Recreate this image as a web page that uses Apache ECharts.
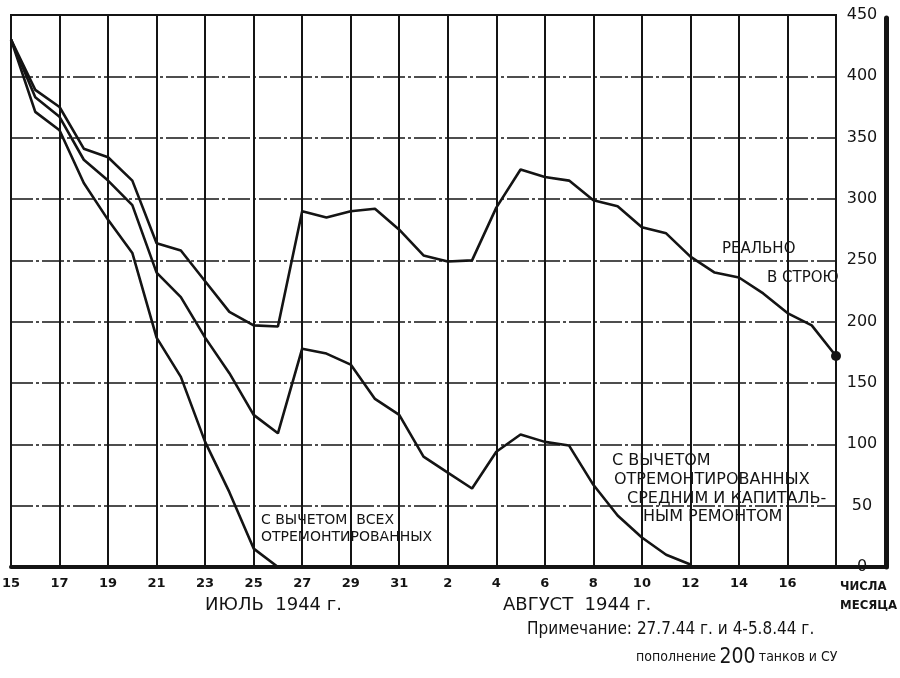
<!DOCTYPE html>
<html><head><meta charset="utf-8">
<script src="https://cdn.jsdelivr.net/npm/echarts/dist/echarts.min.js"></script>
<style>html,body{margin:0;padding:0;background:#fff}#c{width:900px;height:678px}</style>
</head><body><div id="c"></div>
<script>
// Days: 15 July 1944 .. 18 August 1944
const days = ['15','16','17','18','19','20','21','22','23','24','25','26','27','28','29','30','31',
              '1','2','3','4','5','6','7','8','9','10','11','12','13','14','15','16','17','18'];
const yTickLabels = ['0','50','100','150','200','250','300','350','400','450'];
// "реально в строю"
const inService = [430,389,375,341,334,315,264,258,233,208,197,196,290,285,290,292,275,
                   254,249,250,293,324,318,315,299,294,277,272,253,240,236,223,207,197,172];
// "с вычетом отремонтированных средним и капитальным ремонтом"
const minusMediumCapital = [430,383,367,332,315,295,240,220,187,158,124,109,178,174,165,137,124,
                   90,77,64,94,108,102,99,67,42,24,10,2,null,null,null,null,null,null];
// "с вычетом всех отремонтированных"
const minusAllRepaired = [430,371,356,313,283,256,187,155,102,61,15,0,null,null,null,null,null,
                   null,null,null,null,null,null,null,null,null,null,null,null,null,null,null,null,null,null];

const INK = '#141414';
const FONT = 'DejaVu Sans';
const chart = echarts.init(document.getElementById('c'));
const lineSeries = (data, extra) => Object.assign({
  type: 'line', data, xAxisIndex: 0, yAxisIndex: 0, symbol: 'none', connectNulls: false,
  lineStyle: { color: INK, width: 2.6 }, itemStyle: { color: INK }, silent: true, z: 5
}, extra || {});

chart.setOption({
  animation: false,
  backgroundColor: '#fff',
  textStyle: { fontFamily: FONT, color: INK },
  grid: [
    { left: 11, right: 64, top: 15, bottom: 111, show: true, borderColor: INK, borderWidth: 2,
      containLabel: false, outerBoundsMode: 'none' },
    { left: 836, right: 14, top: 18, bottom: 111, containLabel: false, outerBoundsMode: 'none' }
  ],
  xAxis: [
    {
      type: 'category', gridIndex: 0, data: days, boundaryGap: false,
      axisLine: { show: true, lineStyle: { color: INK, width: 4 } },
      axisTick: { show: false },
      axisLabel: {
        interval: 1, margin: 10, fontSize: 13, fontWeight: 'bold', color: INK, fontFamily: FONT,
        formatter: (v, i) => (i === days.length - 1 ? '' : v)
      },
      splitLine: { show: true, interval: 1, lineStyle: { color: INK, width: 2 } }
    },
    {
      type: 'value', gridIndex: 1, min: 0, max: 1,
      axisLine: { show: true, onZero: false, lineStyle: { color: INK, width: 4 } },
      axisTick: { show: false }, axisLabel: { show: false }, splitLine: { show: false }
    }
  ],
  yAxis: [
    {
      type: 'value', gridIndex: 0, position: 'right', min: 0, max: 450, interval: 50,
      axisLine: { show: true, onZero: false, lineStyle: { color: INK, width: 2 } },
      axisTick: { show: false },
      axisLabel: { align: 'center', margin: 26, fontSize: 16, color: INK, fontFamily: FONT,
        formatter: v => yTickLabels[Math.round(v / 50)] },
      splitLine: { show: true, lineStyle: { color: INK, width: 1.6, type: [22, 3, 3, 3] } }
    },
    {
      type: 'value', gridIndex: 1, position: 'right', min: 0, max: 1,
      axisLine: { show: true, onZero: false, lineStyle: { color: INK, width: 5 } },
      axisTick: { show: false }, axisLabel: { show: false }, splitLine: { show: false }
    }
  ],
  series: [
    lineSeries(inService, {
      name: 'реально в строю', symbol: 'circle', showSymbol: true,
      symbolSize: (v, p) => (p.dataIndex === inService.length - 1 ? 10 : 0)
    }),
    lineSeries(minusMediumCapital, { name: 'с вычетом отремонтированных средним и капитальным ремонтом' }),
    lineSeries(minusAllRepaired, { name: 'с вычетом всех отремонтированных' })
  ],
  graphic: [
    { type: 'text', left: 722, top: 242, z: 10, style: { text: 'РЕАЛЬНО', font: '15px "DejaVu Sans"', fill: INK } },
    { type: 'text', left: 767, top: 271, z: 10, style: { text: 'В СТРОЮ', font: '15px "DejaVu Sans"', fill: INK } },
    { type: 'text', left: 261, top: 513, z: 10, style: { text: 'С ВЫЧЕТОМ  ВСЕХ', font: '14px "DejaVu Sans"', fill: INK } },
    { type: 'text', left: 261, top: 530, z: 10, style: { text: 'ОТРЕМОНТИРОВАННЫХ', font: '14px "DejaVu Sans"', fill: INK } },
    { type: 'text', left: 612, top: 453, z: 10, style: { text: 'С ВЫЧЕТОМ', font: '16px "DejaVu Sans"', fill: INK } },
    { type: 'text', left: 614, top: 472, z: 10, style: { text: 'ОТРЕМОНТИРОВАННЫХ', font: '16px "DejaVu Sans"', fill: INK } },
    { type: 'text', left: 627, top: 491, z: 10, style: { text: 'СРЕДНИМ И КАПИТАЛЬ-', font: '16px "DejaVu Sans"', fill: INK } },
    { type: 'text', left: 643, top: 509, z: 10, style: { text: 'НЫМ РЕМОНТОМ', font: '16px "DejaVu Sans"', fill: INK } },
    { type: 'text', left: 840, top: 577, z: 10, style: { text: 'ЧИСЛА\nМЕСЯЦА', font: 'bold 13px "DejaVu Sans Condensed"', lineHeight: 19, fill: INK } },
    { type: 'text', left: 205, top: 596, z: 10, style: { text: 'ИЮЛЬ  1944 г.', font: '18px "DejaVu Sans"', fill: INK } },
    { type: 'text', left: 503, top: 596, z: 10, style: { text: 'АВГУСТ  1944 г.', font: '18px "DejaVu Sans"', fill: INK } },
    { type: 'text', left: 527, top: 621, z: 10, style: { text: 'Примечание: 27.7.44 г. и 4-5.8.44 г.', font: '17px "DejaVu Sans Condensed"', fill: INK } },
    { type: 'text', left: 636, top: 647, z: 10, style: {
        text: '{a|пополнение} {b|200} {a|танков и СУ}', fill: INK,
        rich: { a: { fontSize: 14, fontFamily: 'DejaVu Sans Condensed', fill: INK },
                b: { fontSize: 21, fontFamily: 'DejaVu Sans Condensed', fill: INK } } } }
  ]
});
</script></body></html>
